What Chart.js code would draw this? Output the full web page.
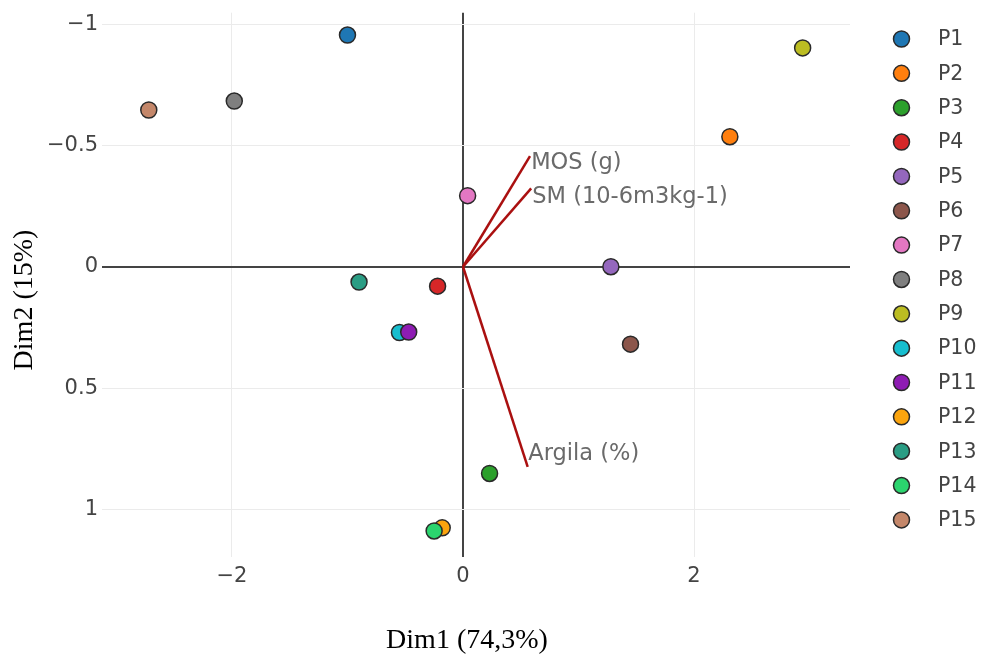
<!DOCTYPE html>
<html>
<head>
<meta charset="utf-8">
<script src="https://cdn.jsdelivr.net/npm/chart.js@4.4.1/dist/chart.umd.min.js"></script>
<style>
  html, body { margin: 0; padding: 0; background: #fff; }
  #wrap { width: 981px; height: 658px; position: relative; }
</style>
</head>
<body>
<div id="wrap"><canvas id="pca"></canvas></div>
<script>
// individuals (PCA scores)
const names = ['P1','P2','P3','P4','P5','P6','P7','P8','P9','P10','P11','P12','P13','P14','P15'];
const dim1 = [-1.00, 2.31, 0.23, -0.22, 1.28, 1.45, 0.04, -1.98, 2.94, -0.55, -0.47, -0.18, -0.90, -0.25, -2.72];
const dim2 = [-0.955, -0.536, 0.852, 0.080, 0.000, 0.319, -0.293, -0.683, -0.902, 0.271, 0.269, 1.076, 0.063, 1.089, -0.646];
const colors = ['#1f77b4','#ff7f0e','#2ca02c','#d62728','#9467bd','#8c564b','#e377c2','#7f7f7f','#bcbd22','#17becf',
                '#8e1cb3','#fba40e','#2a9d84','#2bd46e','#c4876a'];

// variable arrows
const varNames = ['MOS (g)', 'SM (10-6m3kg-1)', 'Argila (%)'];
const varX = [0.58, 0.59, 0.56];
const varY = [-0.456, -0.323, 0.825];
const labelX = [0.59, 0.60, 0.565];
const labelY = [-0.428, -0.287, 0.773];

// axes
const xTicks = [-2, 0, 2];
const yTicks = [-1, -0.5, 0, 0.5, 1];
const xTitle = 'Dim1 (74,3%)';
const yTitle = 'Dim2 (15%)';

const sans = '"DejaVu Sans", Verdana, sans-serif';
const tickFont = { family: sans, size: 21 };

const datasets = [];
varNames.forEach((n, i) => {
    datasets.push({
        label: n,
        data: [{ x: 0, y: 0 }, { x: varX[i], y: varY[i] }],
        showLine: true,
        borderColor: '#aa1010',
        borderWidth: 2.5,
        pointRadius: 0,
        order: 200
    });
});
names.forEach((n, i) => {
    datasets.push({
        label: n,
        data: [{ x: dim1[i], y: dim2[i] }],
        backgroundColor: colors[i],
        borderColor: '#2a2a2a',
        borderWidth: 1.5,
        pointRadius: 8,
        order: 100 - i
    });
});

const overlay = {
    id: 'overlay',
    afterDatasetsDraw(chart) {
        const ctx = chart.ctx;
        const xs = chart.scales.x, ys = chart.scales.y;
        ctx.save();
        // arrow labels
        ctx.font = '22.5px ' + sans;
        ctx.fillStyle = '#6a6a6a';
        ctx.textAlign = 'left';
        ctx.textBaseline = 'middle';
        varNames.forEach((n, i) => {
            ctx.fillText(n, xs.getPixelForValue(labelX[i]), ys.getPixelForValue(labelY[i]));
        });
        ctx.restore();
    },
    afterDraw(chart) {
        const ctx = chart.ctx;
        ctx.save();
        // legend
        ctx.font = '20.5px ' + sans;
        ctx.textBaseline = 'middle';
        ctx.textAlign = 'left';
        names.forEach((n, i) => {
            const y = 39 + i * 34.35;
            ctx.beginPath();
            ctx.arc(901.5, y, 8, 0, Math.PI * 2);
            ctx.fillStyle = colors[i];
            ctx.fill();
            ctx.lineWidth = 1.5;
            ctx.strokeStyle = '#2a2a2a';
            ctx.stroke();
            ctx.fillStyle = '#444';
            ctx.fillText(n, 938, y + 1);
        });
        // axis titles
        ctx.font = '28px "Liberation Serif", "Times New Roman", serif';
        ctx.fillStyle = '#000';
        ctx.textAlign = 'center';
        ctx.fillText(xTitle, 467, 641);
        ctx.translate(25, 300);
        ctx.rotate(-Math.PI / 2);
        ctx.fillText(yTitle, 0, 0);
        ctx.restore();
    }
};

new Chart(document.getElementById('pca'), {
    type: 'scatter',
    data: { datasets: datasets },
    options: {
        responsive: true,
        maintainAspectRatio: false,
        animation: false,
        layout: { padding: { left: 0, right: 131, top: 12.7, bottom: 0 } },
        plugins: {
            legend: { display: false },
            tooltip: { enabled: false }
        },
        scales: {
            x: {
                type: 'linear',
                min: -3.125,
                max: 3.35,
                afterFit: s => { s.height = 101.3; s.paddingLeft = 0; s.paddingRight = 0; },
                afterBuildTicks: s => { s.ticks = xTicks.map(v => ({ value: v })); },
                border: { display: false },
                grid: {
                    drawTicks: false,
                    color: c => c.tick && c.tick.value === 0 ? '#444' : '#ebebeb',
                    lineWidth: c => c.tick && c.tick.value === 0 ? 2 : 1
                },
                ticks: {
                    padding: 7,
                    color: '#444',
                    font: tickFont,
                    callback: v => String(v).replace('-', '\u2212')
                }
            },
            y: {
                type: 'linear',
                reverse: true,
                min: -1.047,
                max: 1.195,
                afterFit: s => { s.width = 102; s.paddingTop = 0; s.paddingBottom = 0; },
                afterBuildTicks: s => { s.ticks = yTicks.map(v => ({ value: v })); },
                border: { display: false },
                grid: {
                    drawTicks: false,
                    color: c => c.tick && c.tick.value === 0 ? '#444' : '#ebebeb',
                    lineWidth: c => c.tick && c.tick.value === 0 ? 2 : 1
                },
                ticks: {
                    padding: 4,
                    color: '#444',
                    font: tickFont,
                    callback: v => String(v).replace('-', '\u2212')
                }
            }
        }
    },
    plugins: [overlay]
});
</script>
</body>
</html>
